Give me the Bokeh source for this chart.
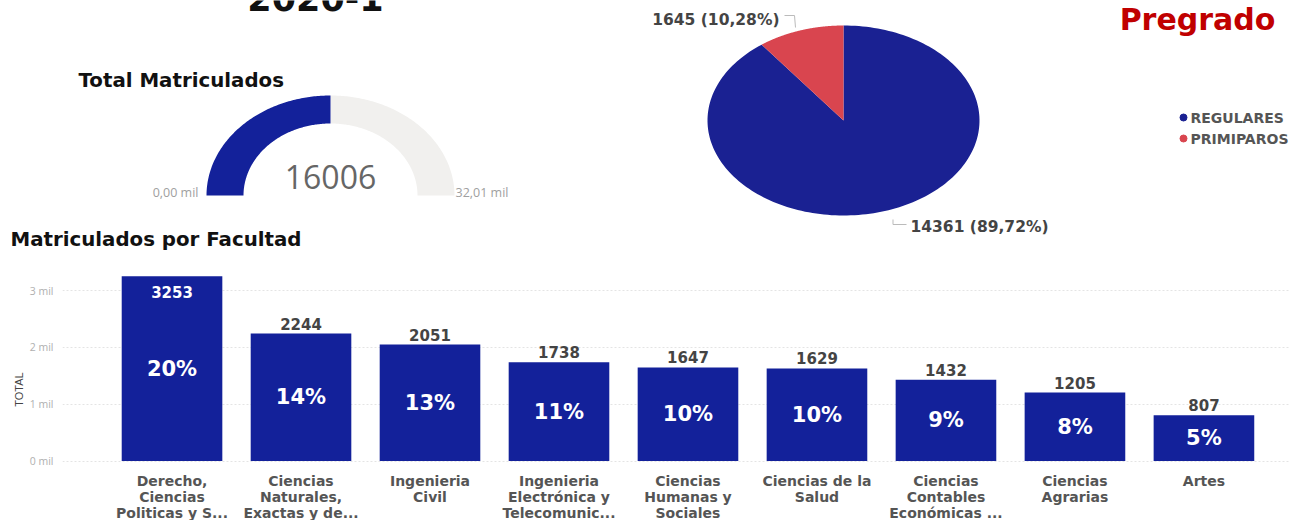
import numpy as np
from bokeh.plotting import figure
from bokeh.models import Range1d, FixedTicker
from bokeh.layouts import column, row
from bokeh.embed import file_html
from bokeh.resources import INLINE
from bokeh.core.properties import value

# ---------------- data ----------------
periodo = "2020-1"
nivel = "Pregrado"
titulo_gauge = "Total Matriculados"
titulo_barras = "Matriculados por Facultad"
total_matriculados = 16006
gauge_min = 0
gauge_max = 32012
gauge_min_label = "0,00 mil"
gauge_max_label = "32,01 mil"

tipos = ["REGULARES", "PRIMIPAROS"]
tipos_valores = [14361, 1645]

facultades = [
    "Derecho,\nCiencias\nPoliticas y S...",
    "Ciencias\nNaturales,\nExactas y de...",
    "Ingenieria\nCivil",
    "Ingenieria\nElectrónica y\nTelecomunic...",
    "Ciencias\nHumanas y\nSociales",
    "Ciencias de la\nSalud",
    "Ciencias\nContables\nEconómicas ...",
    "Ciencias\nAgrarias",
    "Artes",
]
matriculados = [3253, 2244, 2051, 1738, 1647, 1629, 1432, 1205, 807]
y_ticks = [0, 1000, 2000, 3000]
y_tick_labels = ["0 mil", "1 mil", "2 mil", "3 mil"]

# ---------------- styles ----------------
BLUE = "#13219A"
PIE_BLUE = "#1A2192"
RED = "#D9454F"
GAUGE_GRAY = "#F1F0EE"
HEAVY = value("DejaVu Sans")
W = 1305
LEFT, RIGHT = 62, 15


def elliptic_band(cx, cy, rxo, ryo, rxi, ryi, a0, a1, n=120):
    t = np.linspace(a0, a1, n)
    xs = np.concatenate([cx + rxo * np.cos(t), cx + rxi * np.cos(t[::-1])])
    ys = np.concatenate([cy - ryo * np.sin(t), cy - ryi * np.sin(t[::-1])])
    return xs, ys


def elliptic_slice(cx, cy, rx, ry, a0, a1, n=200):
    t = np.linspace(a0, a1, n)
    xs = np.concatenate([[cx], cx + rx * np.cos(t)])
    ys = np.concatenate([[cy], cy - ry * np.sin(t)])
    return xs, ys


# ---------------- top panel ----------------
TOP_H = 258
top = figure(width=W, height=TOP_H, x_range=Range1d(0, W), y_range=Range1d(TOP_H, 0),
             output_backend="svg", toolbar_location=None, min_border=0)
top.axis.visible = False
top.grid.visible = False
top.outline_line_color = None

# period title (cut at the top)
top.text(x=[315], y=[-3], text=[periodo], text_font=HEAVY, text_font_style="bold",
         text_font_size="35px", text_color="#111111", text_align="center",
         text_baseline="middle")

# level title
top.text(x=[1197], y=[19], text=[nivel], text_font=HEAVY, text_font_style="bold",
         text_font_size="30px", text_color="#C00000", text_align="center",
         text_baseline="middle")

# gauge
top.text(x=[78], y=[80], text=[titulo_gauge], text_font=HEAVY, text_font_style="bold",
         text_font_size="19.8px", text_color="#111111", text_align="left",
         text_baseline="middle")
gcx, gcy = 330, 195
frac = (total_matriculados - gauge_min) / (gauge_max - gauge_min)
split = np.pi - frac * np.pi
gx, gy = elliptic_band(gcx, gcy, 124, 100, 87, 72, split, 0)
top.patch(gx, gy, fill_color=GAUGE_GRAY, line_color=None)
bx, by = elliptic_band(gcx, gcy, 124, 100, 87, 72, np.pi, split)
top.patch(bx, by, fill_color=BLUE, line_color=None)
top.text(x=[gcx], y=[gcy - 19], text=[str(total_matriculados)], text_font=value("Open Sans"),
         text_font_size="32px", text_color="#666666", text_align="center",
         text_baseline="middle")
top.text(x=[198], y=[192], text=[gauge_min_label], text_font=value("Open Sans"),
         text_font_size="12.5px", text_color="#A0A0A0", text_align="right", text_baseline="middle")
top.text(x=[455], y=[192], text=[gauge_max_label], text_font=value("Open Sans"),
         text_font_size="12.5px", text_color="#A0A0A0", text_align="left", text_baseline="middle")

# pie
pcx, pcy, prx, pry = 843, 120, 136, 95
total_tipos = sum(tipos_valores)
pie_colors = [PIE_BLUE, RED]
start = np.pi / 2
for v, c in zip(tipos_valores, pie_colors):
    end = start - 2 * np.pi * v / total_tipos
    sx, sy = elliptic_slice(pcx, pcy, prx, pry, start, end)
    top.patch(sx, sy, fill_color=c, line_color=None)
    start = end

pct = [f"{v} ({100 * v / total_tipos:.2f}%)".replace(".", ",") for v in tipos_valores]
top.text(x=[910], y=[226], text=[pct[0]], text_font=HEAVY, text_font_style="bold",
         text_font_size="15.5px", text_color="#444444", text_align="left", text_baseline="middle")
top.text(x=[779], y=[19], text=[pct[1]], text_font=HEAVY, text_font_style="bold",
         text_font_size="15.5px", text_color="#444444", text_align="right", text_baseline="middle")
top.line([892.5, 892.5, 906], [219, 224, 224], line_color="#BBBBBB", line_width=1)
top.line([784, 794, 795], [15, 15, 27], line_color="#BBBBBB", line_width=1)

# legend
top.scatter(x=[1183, 1183], y=[117, 138], size=7, color=pie_colors)
top.text(x=[1190, 1190], y=[117, 138], text=tipos, text_font=HEAVY, text_font_style="bold",
         text_font_size="14px", text_color="#555555", text_align="left", text_baseline="middle")

# bar chart title
top.text(x=[10], y=[239], text=[titulo_barras], text_font=HEAVY, text_font_style="bold",
         text_font_size="19.8px", text_color="#111111", text_align="left", text_baseline="middle")

# ---------------- bar chart ----------------
BAR_H = 520 - TOP_H
idx = list(range(len(facultades)))
bar = figure(width=W, height=BAR_H, x_range=Range1d(-0.849, 8.671), y_range=Range1d(-1047, 3565),
             output_backend="svg", toolbar_location=None,
             min_border_left=LEFT, min_border_right=RIGHT, min_border_top=0, min_border_bottom=0)
bar.outline_line_color = None
bar.xaxis.visible = False
bar.xgrid.visible = False
bar.vbar(x=idx, top=matriculados, width=0.78, fill_color=BLUE, line_color=None)

bar.yaxis.ticker = FixedTicker(ticks=y_ticks)
bar.yaxis.major_label_overrides = dict(zip(y_ticks, y_tick_labels))
bar.yaxis.axis_line_color = None
bar.yaxis.major_tick_line_color = None
bar.yaxis.minor_tick_line_color = None
bar.yaxis.major_label_text_font = "Open Sans"
bar.yaxis.major_label_text_font_size = "10.5px"
bar.yaxis.major_label_text_color = "#B0B0B0"
bar.yaxis.major_label_standoff = 3
bar.yaxis.axis_label = "TOTAL"
bar.yaxis.axis_label_text_font = "Liberation Sans"
bar.yaxis.axis_label_text_font_style = "normal"
bar.yaxis.axis_label_text_font_size = "11px"
bar.yaxis.axis_label_text_color = "#444444"
bar.yaxis.axis_label_standoff = 2
bar.ygrid.grid_line_color = "#E4E4E4"
bar.ygrid.grid_line_dash = "2 2"

total_fac = sum(matriculados)
ymax = bar.y_range.end
outside = [i for i, v in enumerate(matriculados) if v < 0.88 * ymax]
inside = [i for i, v in enumerate(matriculados) if v >= 0.88 * ymax]

bar.text(x=[idx[i] for i in outside], y=[matriculados[i] for i in outside],
         text=[str(matriculados[i]) for i in outside], y_offset=-10,
         text_font=HEAVY, text_font_style="bold", text_font_size="15px",
         text_color="#444444", text_align="center", text_baseline="middle")
bar.text(x=[idx[i] for i in inside], y=[matriculados[i] for i in inside],
         text=[str(matriculados[i]) for i in inside], y_offset=16,
         text_font=HEAVY, text_font_style="bold", text_font_size="15px",
         text_color="white", text_align="center", text_baseline="middle")
bar.text(x=idx, y=[v / 2 for v in matriculados],
         text=[f"{round(100 * v / total_fac)}%" for v in matriculados],
         text_font=HEAVY, text_font_style="bold", text_font_size="21px",
         text_color="white", text_align="center", text_baseline="middle")
bar.text(x=idx, y=[0] * len(idx), text=facultades, y_offset=12,
         text_font=HEAVY, text_font_style="bold", text_font_size="14px",
         text_line_height=1.0, text_color="#555555", text_align="center",
         text_baseline="top")

layout = column(row(top), row(bar), spacing=0)
open("out.html", "w").write(file_html(layout, INLINE))
